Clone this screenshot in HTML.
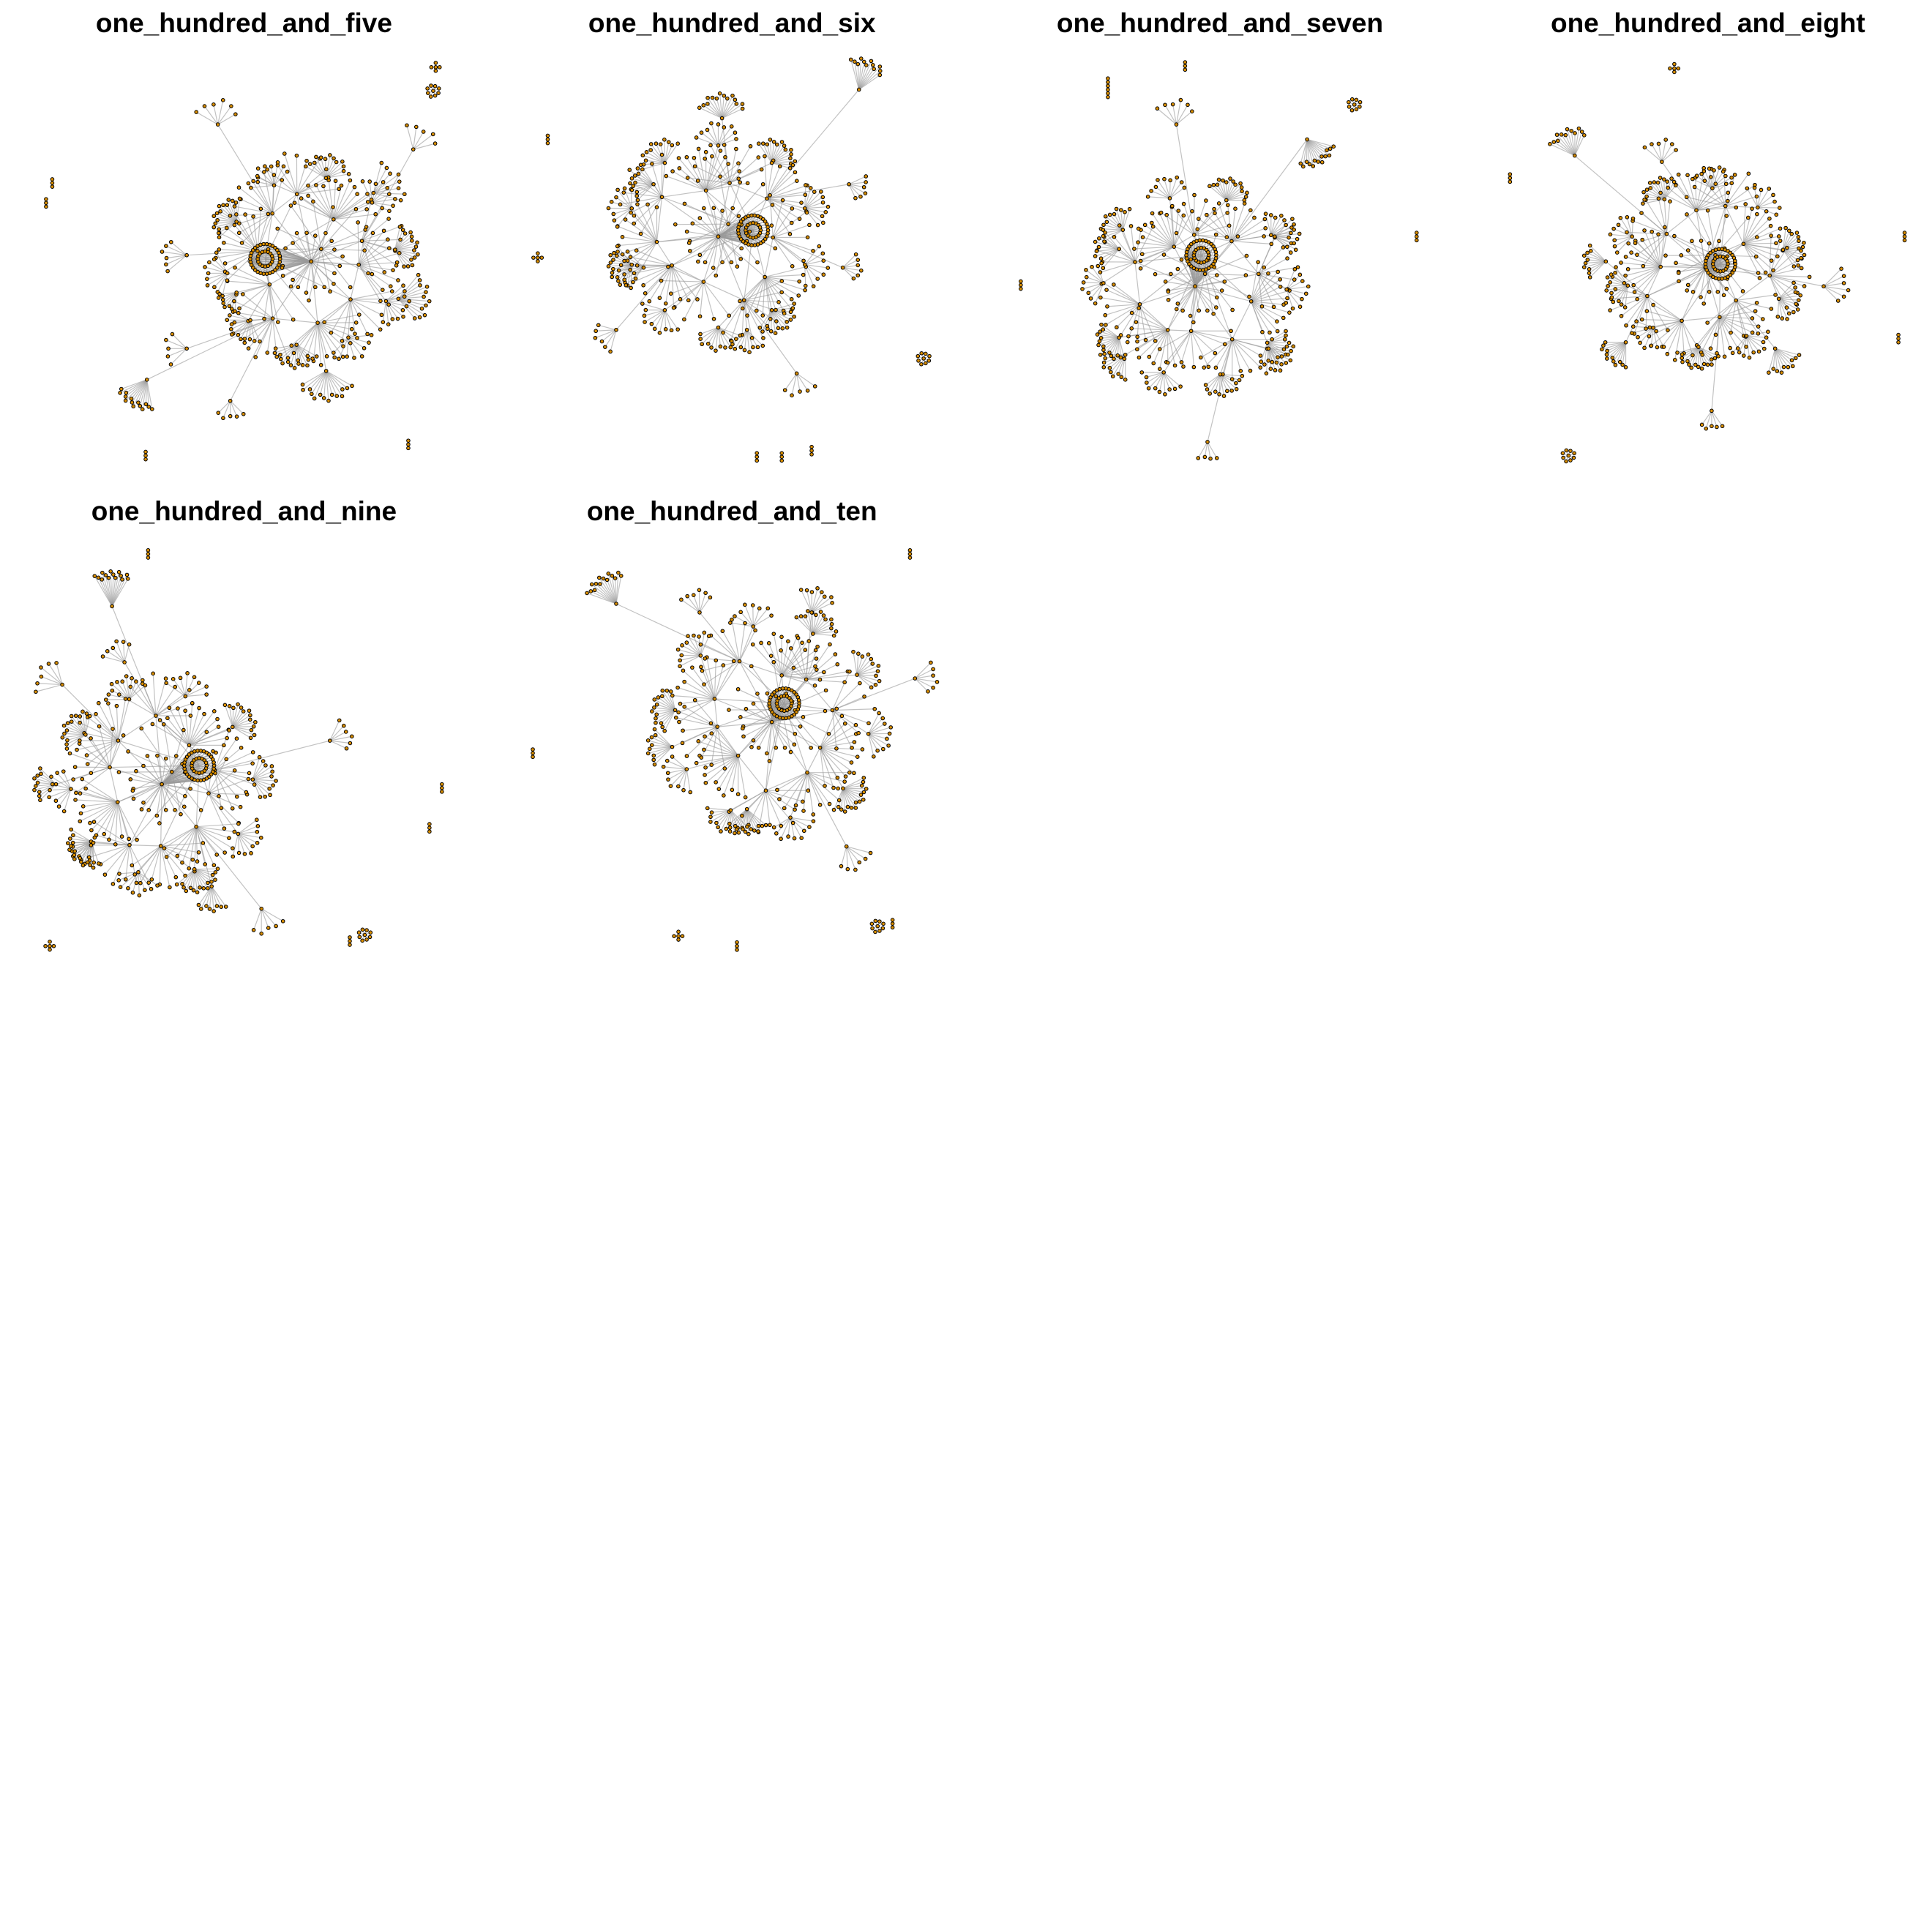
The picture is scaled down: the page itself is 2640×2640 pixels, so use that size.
<!DOCTYPE html>
<html><head><meta charset="utf-8">
<style>
html,body{margin:0;padding:0;background:#fff;}
svg{display:block;}
text{font-family:"Liberation Sans",Arial,sans-serif;font-weight:bold;}
</style></head>
<body>
<svg id="chart" width="2640" height="2640" viewBox="0 0 2640 2640" xmlns="http://www.w3.org/2000/svg">
<rect width="2640" height="2640" fill="#fff"/>
</svg>
<script>
// Panel titles
const titles = ["one_hundred_and_five","one_hundred_and_six","one_hundred_and_seven","one_hundred_and_eight","one_hundred_and_nine","one_hundred_and_ten"];
// Panel grid offsets (display units, 392 per panel)
const panelCols = [0,1,2,3,0,1];
const panelRows = [0,0,0,0,1,1];
// Main cluster: [cx, cy, R, rotation]
const centers = [[250,210,85,10],[185,190,85,0],[176,230,80,20],[194,215,80,5],[130,238,85,15],[228,188,85,25]];
// Dense ring hubs
const denseHubs = [[213,208],[213,185],[181,205],[206,212],[160,223],[238,173]];
// Core fan sizes (children per inner hub)
const coreSizes = [13,9,15,11,8,14,12,10,16,9];
// Peripheral fans: [x, y, n, r, dirDeg, spanDeg]
const fans = [
 [[175,100,6,20,-90,120],[118,305,14,24,120,80],[150,280,5,18,180,90],[185,322,5,15,90,90],[332,120,5,20,-60,90],[262,298,14,24,90,120],[320,240,12,25,0,100],[150,205,6,20,180,80],[190,235,8,15,135,80],[300,155,8,25,-30,90]],
 [[188,95,14,20,-90,130],[298,72,12,25,-70,70],[290,148,6,15,20,90],[285,215,6,15,0,90],[133,148,10,18,180,90],[208,265,8,18,90,90],[248,300,5,18,80,90],[103,265,6,18,150,90],[125,215,8,20,180,90]],
 [[266,112,14,22,60,90],[161,100,6,20,-90,100],[186,355,4,15,90,60],[115,200,10,20,180,100],[235,280,10,20,45,100],[120,285,10,20,135,90],[240,190,8,20,0,90]],
 [[89,125,12,22,-110,90],[159,130,6,18,-90,100],[289,230,6,20,0,90],[199,330,5,15,90,70],[114,210,10,18,180,90],[130,275,12,20,135,90],[250,280,10,20,60,90]],
 [[90,95,14,28,-90,60],[100,140,6,18,-120,90],[50,158,6,22,-150,90],[45,238,10,18,180,90],[265,203,6,18,-20,90],[170,320,8,20,90,70],[210,338,5,20,70,80],[75,285,12,20,135,90]],
 [[103,93,14,25,-120,80],[343,153,6,18,0,90],[208,258,14,20,90,100],[288,288,6,20,60,90],[148,208,10,20,180,90],[260,100,8,20,-70,90],[170,100,6,18,-100,90]]
];
// Small disconnected components: [x, y, type]
const smalls = [
 [[350,54,'cross'],[348,73,'star'],[42,147,'pair'],[37,163,'pair'],[117,366,'pair'],[328,357,'pair']],
 [[48,112,'pair'],[40,207,'cross'],[350,288,'star'],[216,367,'pair'],[236,367,'pair'],[260,362,'pair']],
 [[106,66,'pair'],[106,75,'pair'],[168,53,'pair'],[304,84,'star'],[354,190,'pair'],[36,229,'pair']],
 [[169,55,'cross'],[37,143,'pair'],[354,190,'pair'],[349,272,'pair'],[84,366,'star']],
 [[119,53,'pair'],[355,241,'pair'],[345,273,'pair'],[40,368,'cross'],[293,359,'star'],[281,364,'pair']],
 [[339,53,'pair'],[36,213,'pair'],[153,360,'cross'],[200,368,'pair'],[313,352,'star'],[325,350,'pair']]
];

const S = 2640/1552;
const NS = "http://www.w3.org/2000/svg";
const svg = document.getElementById('chart');
const rad = d => d*Math.PI/180;

titles.forEach((t, p) => {
  const ox = panelCols[p]*392, oy = panelRows[p]*392;
  const X = v => (ox+v)*S, Y = v => (oy+v)*S;
  const g = document.createElementNS(NS,'g');
  
  
  svg.appendChild(g);
  const eg = document.createElementNS(NS,'g');
  
  
  eg.setAttribute('stroke', '#9a9a9a');
  eg.setAttribute('stroke-width', '1.2');
  eg.setAttribute('stroke-opacity', '0.6');
  g.appendChild(eg);
  const ng = document.createElementNS(NS,'g');
  
  
  ng.setAttribute('fill', '#d98e00');
  ng.setAttribute('stroke', '#000');
  ng.setAttribute('stroke-width', '1');
  g.appendChild(ng);
  const edge = (a,b,c,d) => {
    const l = document.createElementNS(NS,'line');
    
    
    l.setAttribute('x1', X(a)); l.setAttribute('y1', Y(b));
    l.setAttribute('x2', X(c)); l.setAttribute('y2', Y(d));
    eg.appendChild(l);
  };
  const node = (a,b) => {
    const c = document.createElementNS(NS,'circle');
    
    
    c.setAttribute('cx', X(a)); c.setAttribute('cy', Y(b)); c.setAttribute('r', 2.3);
    ng.appendChild(c);
  };
  const fan = (hx,hy,n,r,dir,span) => {
    for (let i=0;i<n;i++){
      const a = rad(dir - span/2 + (n>1 ? span*i/(n-1) : span/2));
      const rr = r*(1 - 0.18*(i%3)/2);
      const x = hx + rr*Math.cos(a), y = hy + rr*Math.sin(a);
      edge(hx,hy,x,y); node(x,y);
    }
    node(hx,hy);
  };
  const [cx,cy,R,rot] = centers[p];
  const [dx,dy] = denseHubs[p];
  const hubs = [[cx,cy]];
  for (let k=0;k<10;k++){
    const ang = rot + k*36 + ((k*17+p*7)%13 - 6);
    const rr = R*(0.45 + 0.2*((k*5+p)%4)/3);
    const a = rad(ang);
    const hx = cx + rr*Math.cos(a), hy = cy + rr*Math.sin(a);
    hubs.push([hx,hy]);
    edge(cx,cy,hx,hy);
    edge(dx,dy,hx,hy);
    if (k>0) edge(hubs[k][0],hubs[k][1],hx,hy);
    fan(hx,hy,coreSizes[(k+p)%10],0.4*R,ang+((k%2)?20:-20),150);
  }
  for (let k=0;k<10;k++){
    const ang = rot + 18 + k*36;
    const a = rad(ang);
    const rr = R*(0.8 + 0.12*((k*3+p)%3)/2);
    const hx = cx + rr*Math.cos(a), hy = cy + rr*Math.sin(a);
    edge(hubs[k+1][0],hubs[k+1][1],hx,hy);
    fan(hx,hy,coreSizes[(k+p+3)%10],0.22*R,ang,140);
  }
  fan(cx,cy,20,0.3*R,0,342);
  fan(cx+8,cy-10,14,0.5*R,40,330);
  edge(cx,cy,dx,dy);
  for (let i=0;i<30;i++){
    const a = rad(i*12);
    const x = dx + 12*Math.cos(a), y = dy + 12*Math.sin(a);
    edge(dx-14,dy+2,x,y); edge(cx,cy,x,y); node(x,y);
  }
  for (let i=0;i<16;i++){
    const a = rad(i*22.5);
    const x = dx + 6*Math.cos(a), y = dy + 6*Math.sin(a);
    edge(dx-14,dy+2,x,y); node(x,y);
  }
  fans[p].forEach(f => {
    let best = hubs[0], bd = 1e9;
    hubs.forEach(h => { const d=(h[0]-f[0])**2+(h[1]-f[1])**2; if(d<bd){bd=d;best=h;} });
    edge(best[0],best[1],f[0],f[1]);
    fan(f[0],f[1],f[2],f[3],f[4],f[5]);
  });
  smalls[p].forEach(s => {
    const [x,y,t] = s;
    if (t==='star'){ fan(x,y,8,5,0,315); }
    else if (t==='cross'){ fan(x,y,4,3.5,45,270); }
    else { edge(x,y-3,x,y+3); node(x,y-3); node(x,y); node(x,y+3); }
  });
  const tx = document.createElementNS(NS,'text');
  
  
  tx.setAttribute('x', X(196)); tx.setAttribute('y', Y(26));
  tx.setAttribute('text-anchor', 'middle');
  tx.setAttribute('font-size', '37');
  tx.textContent = t;
  g.appendChild(tx);
});
</script>
</body></html>
